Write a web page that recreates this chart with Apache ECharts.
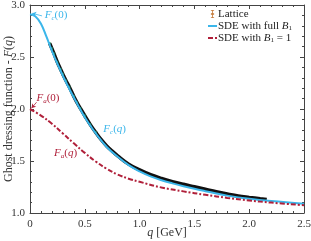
<!DOCTYPE html>
<html><head><meta charset="utf-8">
<script src="https://cdn.jsdelivr.net/npm/echarts@6/dist/echarts.min.js"></script>
<style>html,body{margin:0;padding:0;background:#fff}#c{width:311px;height:241px}</style>
</head><body><div id="c"></div>
<script>
// ---- data ----
const fcQ = [0,0.05,0.1,0.15,0.2,0.25,0.3,0.35,0.4,0.45,0.5,0.55,0.6,0.7,0.8,0.9,1.0,1.1,1.2,1.3,1.4,1.5,1.6,1.7,1.8,2.0,2.2,2.5];
const fcF = [2.91,2.89,2.82,2.695,2.56,2.435,2.32,2.212,2.11,2.013,1.92,1.84,1.765,1.635,1.54,1.46,1.40,1.352,1.315,1.285,1.258,1.233,1.21,1.188,1.167,1.137,1.115,1.09];
const faQ = [0,0.1,0.2,0.3,0.4,0.5,0.6,0.7,0.8,0.9,1.0,1.2,1.4,1.6,1.8,2.0,2.2,2.5];
const faF = [2.0,1.937,1.858,1.765,1.67,1.578,1.495,1.425,1.37,1.33,1.30,1.245,1.208,1.175,1.145,1.12,1.10,1.075];
const latQ = [0.18,0.2,0.22,0.25,0.28,0.3,0.33,0.36,0.4,0.43,0.46,0.5,0.55,0.6,0.65,0.7,0.75,0.8,0.9,1.0,1.1,1.2,1.3,1.4,1.5,1.6,1.7,1.8,1.9,2.0,2.1,2.16];
const latF = [2.63,2.58,2.53,2.45,2.38,2.335,2.27,2.21,2.12,2.06,2.005,1.935,1.85,1.775,1.705,1.645,1.595,1.55,1.47,1.415,1.368,1.332,1.302,1.276,1.252,1.228,1.204,1.183,1.164,1.15,1.137,1.13];
const xTicks = {min:0, max:2.5, step:0.5};
const yTicks = {min:1.0, max:3.0, step:0.5};
const legendNames = ['Lattice','SDE with full B1','SDE with B1 = 1'];

const zip = (a,b)=>a.map((v,i)=>[v,b[i]]);
const FONT = 'Liberation Serif';
const BLUE = '#3bb6ea', RED = '#b0203a';

const axisCommon = {
  type:'value', splitLine:{show:false},
  axisLine:{show:true, onZero:false, lineStyle:{color:'#444', width:1}},
  axisTick:{show:true, inside:true, length:4, lineStyle:{color:'#444'}},
  minorTick:{show:true, splitNumber:5, length:2, lineStyle:{color:'#444'}},
};
const fmt = v => v===0 ? '0' : v.toFixed(1);
const richFor = c => ({i:{fontFamily:FONT, fontStyle:'italic', fontSize:11, color:c},
  s:{fontFamily:FONT, fontStyle:'italic', fontSize:7, color:c, padding:[6,0,0,0]}});

const chart = echarts.init(document.getElementById('c'), null, {renderer:'canvas'});
chart.setOption({
  animation:false,
  grid:{left:30, right:7, top:5, bottom:28, containLabel:false, outerBoundsMode:'none'},
  legend:{
    top:8, left:207, orient:'vertical', itemGap:0, itemWidth:9, itemHeight:8, padding:0,
    textStyle:{fontFamily:FONT, fontSize:11, color:'#222', lineHeight:12, padding:[0,0,0,-4],
      rich:{i:{fontFamily:FONT, fontStyle:'italic', fontSize:11, color:'#222', lineHeight:12},
            s:{fontFamily:FONT, fontSize:7, color:'#222', padding:[5,0,0,0], lineHeight:12}}},
    formatter: n => n===legendNames[0] ? 'Lattice' : (n===legendNames[1] ? 'SDE with full {i|B}{s|1}' : 'SDE with {i|B}{s|1} = 1'),
    data:[
      {name:legendNames[0], icon:'path://M3,0 H7 V1 H5.5 V4 H7 V6 H5.5 V9 H7 V10 H3 V9 H4.5 V6 H3 V4 H4.5 V1 H3 Z', itemStyle:{color:'#c57a3a', opacity:1}},
      {name:legendNames[1], itemStyle:{opacity:0}, lineStyle:{color:BLUE, width:2}},
      {name:legendNames[2], itemStyle:{opacity:0}, lineStyle:{color:RED, width:2}}
    ]
  },
  xAxis:[
    Object.assign({}, axisCommon, {min:xTicks.min, max:xTicks.max, interval:xTicks.step, position:'bottom',
      axisLabel:{fontFamily:FONT, fontSize:11, color:'#333', margin:6, formatter:fmt},
      name:'{i|q} [GeV]', nameLocation:'middle', nameGap:14, nameMoveOverlap:false,
      nameTextStyle:{fontFamily:FONT, fontSize:12, color:'#333', rich:{i:{fontFamily:FONT, fontStyle:'italic', fontSize:12, color:'#333'}}}}),
    Object.assign({}, axisCommon, {min:xTicks.min, max:xTicks.max, interval:xTicks.step, position:'top', axisLabel:{show:false}})
  ],
  yAxis:[
    Object.assign({}, axisCommon, {min:yTicks.min, max:yTicks.max, interval:yTicks.step, position:'left',
      axisLabel:{fontFamily:FONT, fontSize:11, color:'#333', margin:5, formatter:fmt},
      name:'Ghost dressing function - {i|F}({i|q})', nameLocation:'middle', nameGap:15, nameMoveOverlap:false,
      nameTextStyle:{fontFamily:FONT, fontSize:12, color:'#333', rich:{i:{fontFamily:FONT, fontStyle:'italic', fontSize:12, color:'#333'}}}}),
    Object.assign({}, axisCommon, {min:yTicks.min, max:yTicks.max, interval:yTicks.step, position:'right', axisLabel:{show:false}})
  ],
  series:[
    {name:legendNames[0], type:'line', smooth:0.4, data:zip(latQ,latF), showSymbol:false, symbol:'none', z:2,
      lineStyle:{color:'#111', width:3.5}, itemStyle:{color:'#c57a3a'}},
    {name:legendNames[0], type:'scatter', data:zip(latQ,latF).slice(0,14), symbol:'rect', symbolSize:[2,3], z:3,
      itemStyle:{color:'#1f8a5a'}},
    {name:legendNames[1], type:'line', smooth:0.4, data:zip(fcQ,fcF), symbol:'none', z:4,
      lineStyle:{color:BLUE, width:2}, itemStyle:{color:BLUE},
      markPoint:{symbol:'circle', symbolSize:0, silent:true, data:[
        {coord:[0.125,2.9], label:{show:true, position:'right', offset:[-4,0], formatter:'{i|F}{s|c}(0)', color:BLUE, rich:richFor(BLUE), fontFamily:FONT, fontSize:11}},
        {coord:[0.66,1.81], label:{show:true, position:'right', offset:[-4,0], formatter:'{i|F}{s|c}({i|q})', color:BLUE, rich:richFor(BLUE), fontFamily:FONT, fontSize:11}}
      ]},
      markLine:{silent:true, symbol:['none','arrow'], symbolSize:4, label:{show:false},
        lineStyle:{color:BLUE, width:0.8, type:'solid'}, data:[[{coord:[0.11,2.895]},{coord:[0.02,2.92]}]]}},
    {name:legendNames[2], type:'line', smooth:0.4, data:zip(faQ,faF), symbol:'none', z:4,
      lineStyle:{color:RED, width:2, type:[5,2,2,2]}, itemStyle:{color:RED},
      markPoint:{symbol:'circle', symbolSize:0, silent:true, data:[
        {coord:[0.05,2.1], label:{show:true, position:'right', offset:[-4,0], formatter:'{i|F}{s|a}(0)', color:RED, rich:richFor(RED), fontFamily:FONT, fontSize:11}},
        {coord:[0.21,1.58], label:{show:true, position:'right', offset:[-4,0], formatter:'{i|F}{s|a}({i|q})', color:RED, rich:richFor(RED), fontFamily:FONT, fontSize:11}}
      ]},
      markLine:{silent:true, symbol:['none','arrow'], symbolSize:4, label:{show:false},
        lineStyle:{color:RED, width:0.8, type:'solid'}, data:[[{coord:[0.06,2.065]},{coord:[0.015,2.01]}]]}}
  ]
});
</script></body></html>
